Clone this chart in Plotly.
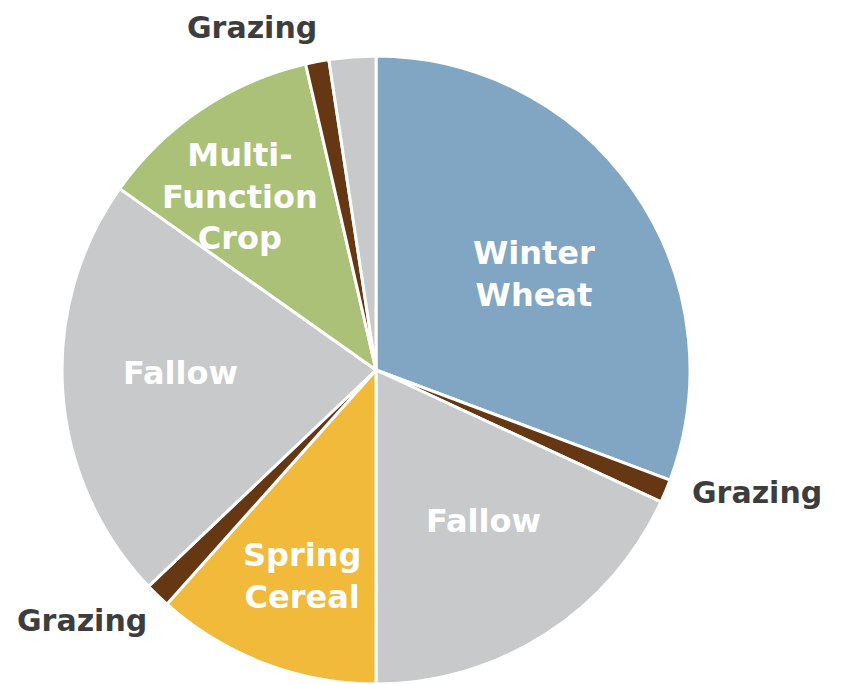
import plotly.graph_objects as go

# Data (clockwise from 12 o'clock)
categories = ["Winter Wheat", "Grazing", "Fallow", "Spring Cereal", "Grazing",
              "Fallow", "Multi-Function Crop", "Grazing", "Other"]
values = [30.7, 1.2, 18.1, 11.6, 1.3, 21.9, 11.6, 1.2, 2.4]
colors = ["#81A6C3", "#663713", "#C8C9CB", "#F2BA3A", "#663713",
          "#C8C9CB", "#ABC178", "#663713", "#C8C9CB"]

W, H = 843, 684
OFF = 8  # page body margin in the rendered html
cx, cy, R = 376 - OFF, 370 - OFF, 314

fig = go.Figure(go.Pie(
    labels=[f"{c} {i}" for i, c in enumerate(categories)],
    values=values,
    sort=False,
    direction="clockwise",
    rotation=0,
    marker=dict(colors=colors, line=dict(color="white", width=3)),
    textinfo="none",
    hoverinfo="skip",
    showlegend=False,
    domain=dict(x=[(cx - R) / W, (cx + R) / W],
                y=[1 - (cy + R) / H, 1 - (cy - R) / H]),
))

# label text and pixel placement
inside_font = dict(family="DejaVu Sans", size=32, color="white", weight=700)
outside_font = dict(family="DejaVu Sans", size=30, color="#3D3D3D", weight=700)
labels = [
    ("Winter<br>Wheat", 534, 274, inside_font),
    ("Grazing", 757, 493, outside_font),
    ("Fallow", 484, 521, inside_font),
    ("Spring<br>Cereal", 302, 576, inside_font),
    ("Grazing", 82, 620, outside_font),
    ("Fallow", 180, 373, inside_font),
    ("Multi-<br>Function<br>Crop", 240, 196, inside_font),
    ("Grazing", 252, 27, outside_font),
]
for txt, px, py, f in labels:
    fig.add_annotation(x=(px - OFF) / W, y=1 - (py - OFF) / H,
                       xref="paper", yref="paper",
                       text=txt, showarrow=False, font=f, align="center",
                       xanchor="center", yanchor="middle")

fig.update_layout(width=W, height=H, margin=dict(l=0, r=0, t=0, b=0),
                  paper_bgcolor="white", plot_bgcolor="white")
fig.write_html("out.html")
